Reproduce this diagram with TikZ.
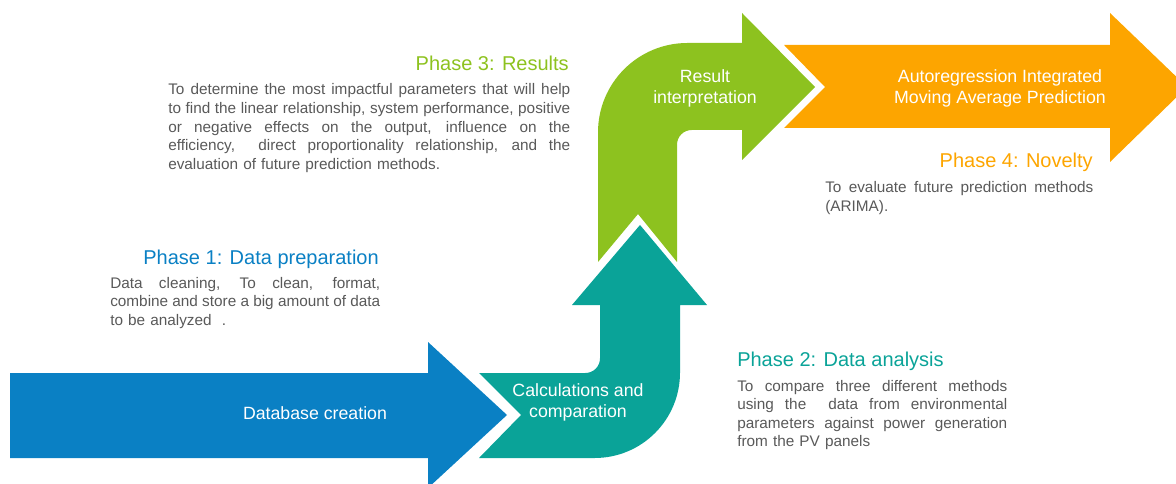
\documentclass[tikz,border=0pt]{standalone}
\usepackage{fontspec}
\setmainfont{Liberation Sans}
\definecolor{phaseblue}{RGB}{10,128,196}
\definecolor{phaseteal}{RGB}{10,163,152}
\definecolor{phasegreen}{RGB}{141,194,31}
\definecolor{phaseorange}{RGB}{253,165,0}
\definecolor{bodygray}{RGB}{89,89,89}
\newcommand{\jline}[2]{\makebox[#1][s]{\spaceskip=0pt\xspaceskip=0pt\relax #2}}
\tikzset{
    phasetitle/.style={inner sep=0pt, font=\fontsize{15}{18}\selectfont},
    phasetext/.style={inner sep=0pt, text=bodygray, align=left, font=\fontsize{11.5}{13.9}\selectfont},
    arrowlabel/.style={inner sep=0pt, text=white, align=center, font=\fontsize{13.3}{15.75}\selectfont}
}

\begin{document}
\begin{tikzpicture}[x=0.75pt, y=-0.75pt]
        \clip (0,0) rectangle (1176,484);
        \fill[phaseblue] (10,373) -- (428,373) -- (428,342) -- (507,415) -- (428,488) -- (428,458) -- (10,458) -- cycle;
        \fill[phaseteal] (479,373) [rounded corners=11pt] -- (600,373) [sharp corners] -- (600,305) -- (572,305) -- (640,225)
            -- (707,305) -- (680,305) [rounded corners=64pt] -- (680,458) [sharp corners] -- (479,458) -- (521,415) -- cycle;
        \fill[phasegreen] (598,262) [rounded corners=67pt] -- (598,43) [sharp corners] -- (742,43) -- (742,13) -- (815,87)
            -- (742,160) -- (742,130) [rounded corners=11pt] -- (677,130) [sharp corners] -- (677,262) -- (638,214) -- cycle;
        \fill[phaseorange] (784,45) -- (1110,45) -- (1110,13) -- (1187,87) -- (1110,162) -- (1110,128) -- (784,128) -- (825,87) -- cycle;

        \node[arrowlabel] (db) at (315,413) {Database creation};
        \node[arrowlabel] (calc) at (578,402) {Calculations and\\comparation};
        \node[arrowlabel] (res) at (705,88) {Result\\interpretation};
        \node[arrowlabel] (arima) at (1000,88) {Autoregression Integrated\\Moving Average Prediction};

        \node[phasetitle, text=phasegreen, anchor=base east] (p3) at (569,71) {Phase 3: Results};
        \node[phasetext, text width=301.5pt, anchor=base west] (p3txt) at (168,95) {%
            \jline{301.5pt}{To determine the most impactful parameters that will help}\\
            \jline{301.5pt}{to find the linear relationship, system performance, positive}\\
            \jline{301.5pt}{or negative effects on the output, influence on the}\\
            \jline{301.5pt}{efficiency,\ \ direct proportionality relationship, and the}\\
            evaluation of future prediction methods.};

        \node[phasetitle, text=phaseblue, anchor=base east] (p1) at (379,265) {Phase 1: Data preparation};
        \node[phasetext, text width=202.5pt, anchor=base west] (p1txt) at (110,288) {%
            \jline{202.5pt}{Data cleaning, To clean, format,}\\
            \jline{202.5pt}{combine and store a big amount of data}\\
            to be analyzed\ \ .};

        \node[phasetitle, text=phaseteal, anchor=base west] (p2) at (737,366) {Phase 2: Data analysis};
        \node[phasetext, text width=202.5pt, anchor=base west] (p2txt) at (737,391) {%
            \jline{202.5pt}{To compare three different methods}\\
            \jline{202.5pt}{using the\ \ data from environmental}\\
            \jline{202.5pt}{parameters against power generation}\\
            from the PV panels};

        \node[phasetitle, text=phaseorange, anchor=base east] (p4) at (1093,168) {Phase 4: Novelty};
        \node[phasetext, text width=201pt, anchor=base west] (p4txt) at (825,193) {%
            \jline{201pt}{To evaluate future prediction methods}\\
            (ARIMA).};
\end{tikzpicture}
\end{document}
